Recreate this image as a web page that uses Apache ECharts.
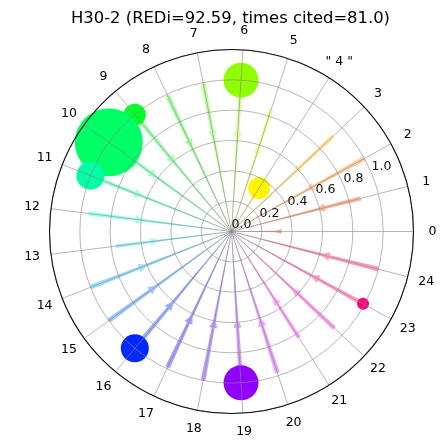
<!DOCTYPE html>
<html><head><meta charset="utf-8">
<script src="https://cdn.jsdelivr.net/npm/echarts@6/dist/echarts.min.js"></script>
<style>html,body{margin:0;padding:0;background:#fff}#c{width:446px;height:441px}</style>
</head><body><div id="c"></div>
<script>
const titleText = 'H30-2 (REDi=92.59, times cited=81.0)';
const angleLabels = ['0','1','2','3','" 4 "','5','6','7','8','9','10','11','12','13','14','15','16','17','18','19','20','21','22','23','24'];
const radiusTickLabels = ['0.0','0.2','0.4','0.6','0.8','1.0'];
const arrowEnd  = [0.33,0.88,1.00,0.92,0.34,0.85,1.00,0.99,0.99,1.00,1.00,1.00,0.95,0.77,1.00,1.00,1.00,0.99,1.00,1.00,0.98,0.83,0.93,1.00,1.00];
const arrowHead = [0.27,0.57,0.55,0.55,0.21,0.50,0.59,0.61,0.60,0.57,0.60,0.62,0.57,0.47,0.59,0.60,0.59,0.60,0.58,0.57,0.59,0.50,0.54,0.59,0.60];
const circleDir  = [4, 6, 9, 10, 11, 16, 19, 23];
const circleR    = [0.34, 1.0, 1.0, 1.0, 1.0, 1.0, 1.0, 0.99];
const circleSize = [22, 35, 22, 68, 28, 28, 35, 12];

function hsv(i, alpha) {
  const h = (i / 25) * 6;
  const x = 1 - Math.abs((h % 2) - 1);
  let r, g, b;
  if (h < 1) { r = 1; g = x; b = 0; }
  else if (h < 2) { r = x; g = 1; b = 0; }
  else if (h < 3) { r = 0; g = 1; b = x; }
  else if (h < 4) { r = 0; g = x; b = 1; }
  else if (h < 5) { r = x; g = 0; b = 1; }
  else { r = 1; g = 0; b = x; }
  return 'rgba(' + Math.round(r*255) + ',' + Math.round(g*255) + ',' + Math.round(b*255) + ',' + alpha + ')';
}

const chart = echarts.init(document.getElementById('c'), null, {renderer: 'canvas'});
const FONT = 'DejaVu Sans';
const gridColor = 'rgba(135,135,135,0.6)';
const CENTER = [231.5, 231.5];
const hiddenAxis = {axisLine: {show: false}, axisTick: {show: false}, splitLine: {show: false}, axisLabel: {show: false}};

const option = {
  animation: false,
  backgroundColor: '#fff',
  title: {
    text: titleText, left: 66, top: 6,
    textStyle: {fontFamily: FONT, fontSize: 16.4, fontWeight: 'normal', color: '#000'}
  },
  polar: [
    {center: CENTER, radius: 182},
    {center: CENTER, radius: 182},
    {center: CENTER, radius: 201}
  ],
  angleAxis: [
    {
      polarIndex: 0, type: 'value', min: 0, max: 25, interval: 1,
      startAngle: 0, clockwise: false, z: 10,
      axisLine: {show: true, lineStyle: {color: '#111', width: 1.1}},
      axisTick: {show: false},
      splitLine: {show: true, lineStyle: {color: gridColor, width: 1}},
      axisLabel: {show: false}
    },
    Object.assign({polarIndex: 1, type: 'value', min: 0, max: 360, startAngle: 22.5, clockwise: false}, hiddenAxis),
    Object.assign({polarIndex: 2, type: 'value', min: 0, max: 25, startAngle: 0, clockwise: false}, hiddenAxis)
  ],
  radiusAxis: [
    {
      polarIndex: 0, type: 'value', min: 0, max: 1.2, interval: 0.2, z: 10,
      axisLine: {show: false}, axisTick: {show: false}, axisLabel: {show: false},
      splitLine: {show: true, lineStyle: {color: gridColor, width: 1}}
    },
    {
      polarIndex: 1, type: 'value', min: 0, max: 1.2, interval: 0.2, z: 11,
      axisLine: {show: false}, axisTick: {show: false}, splitLine: {show: false},
      axisLabel: {
        show: true, margin: 0, align: 'left', verticalAlign: 'bottom',
        fontFamily: FONT, fontSize: 12.5, color: '#111',
        formatter: (v) => { const i = Math.round(v / 0.2); return i < radiusTickLabels.length ? radiusTickLabels[i] : ''; }
      }
    },
    Object.assign({polarIndex: 2, type: 'value', min: 0, max: 1}, hiddenAxis)
  ],
  series: [
    {
      type: 'custom', coordinateSystem: 'polar', polarIndex: 0, z: 2,
      data: arrowEnd.map((r, i) => [r, i, arrowHead[i]]),
      encode: {radius: 0, angle: 1},
      renderItem: function (params, api) {
        const r = api.value(0), a = api.value(1), h = api.value(2);
        const c = api.coord([0, a]);
        const e = api.coord([r, a]);
        const hp = api.coord([h, a]);
        const dx = e[0] - c[0], dy = e[1] - c[1];
        const len = Math.hypot(dx, dy);
        const ux = dx / len, uy = dy / len, nx = -uy, ny = ux;
        const tip = Math.hypot(hp[0] - c[0], hp[1] - c[1]);
        const k = 0.016;
        const H = 0.04 * tip + 0.6;
        const L = 10;
        const hb = Math.min(tip + L, len);
        let ts = H * tip / Math.max(H - k * L, 0.1);
        ts = Math.min(ts, hb);
        const P = (t, s) => [c[0] + ux * t + nx * s, c[1] + uy * t + ny * s];
        const pts = [P(0, 0), P(ts, k * ts), P(hb, H), P(hb, k * hb), P(len, k * len),
                     P(len, -k * len), P(hb, -k * hb), P(hb, -H), P(ts, -k * ts)];
        return {type: 'polygon', shape: {points: pts}, style: {fill: hsv(a, 0.38)}};
      }
    },
    {
      type: 'scatter', coordinateSystem: 'polar', polarIndex: 0, z: 3,
      data: circleDir.map((d, i) => ({
        value: [circleR[i], d],
        symbolSize: circleSize[i],
        itemStyle: {color: hsv(d, 1), opacity: 1}
      })),
      symbol: 'circle'
    },
    {
      type: 'scatter', coordinateSystem: 'polar', polarIndex: 2, z: 12,
      symbolSize: 0, silent: true,
      itemStyle: {opacity: 1, color: '#000'},
      data: angleLabels.map((t, i) => ({value: [1, i], name: t})),
      label: {
        show: true, position: 'inside', align: 'center', verticalAlign: 'middle',
        formatter: p => p.name, fontFamily: FONT, fontSize: 12.5, color: '#000', opacity: 1
      }
    }
  ]
};
chart.setOption(option);
</script>
</body></html>
